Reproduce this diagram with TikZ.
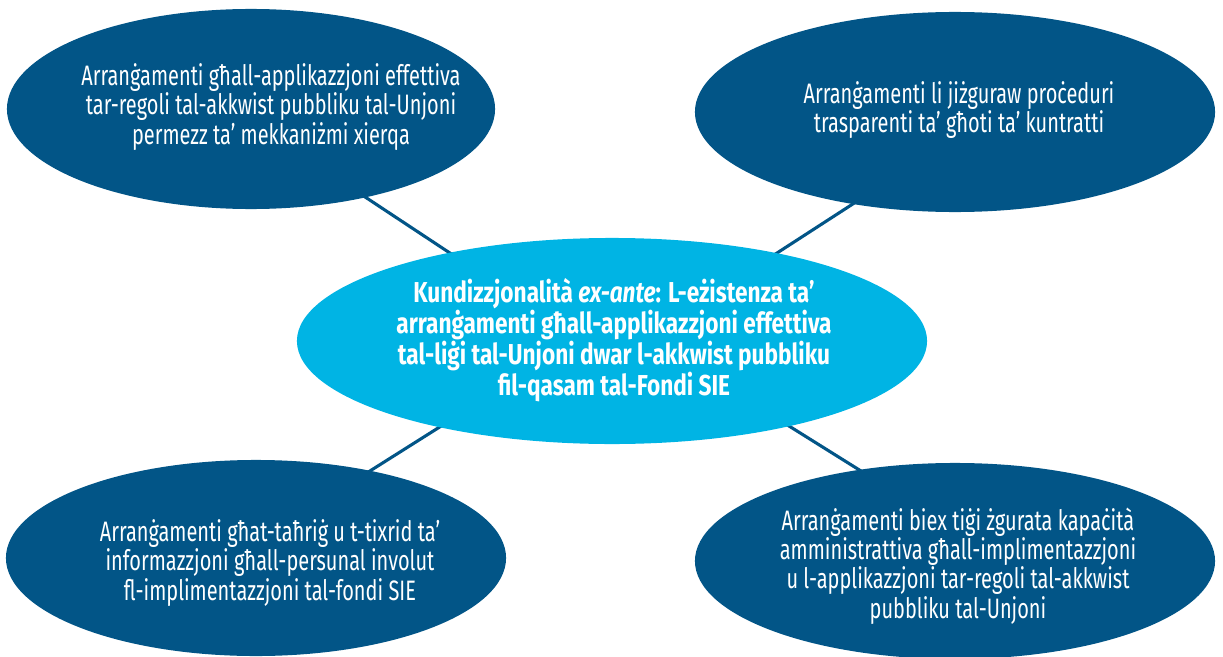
\documentclass[tikz,border=0pt]{standalone}
\usepackage{fontspec}
\setmainfont[FakeStretch=0.71]{Fira Sans}
\newfontfamily\hubfont[FakeStretch=0.785]{Fira Sans}
\usetikzlibrary{positioning, shapes.geometric, backgrounds, calc}
\definecolor{darkblue}{RGB}{2,85,135}
\definecolor{lightblue}{RGB}{0,180,228}

\begin{document}
\begin{tikzpicture}[x=0.025cm,y=-0.025cm,
blob/.style={ellipse, fill=darkblue, inner sep=0pt},
hub/.style={ellipse, fill=lightblue, inner sep=0pt},
txt/.style={text=white, align=center, inner sep=0pt, font=\fontsize{20}{20.8}\selectfont},
link/.style={draw=darkblue, line width=2.2pt}]
\useasboundingbox (0,0) rectangle (1223,657);
\node[hub, minimum width=15.75cm, minimum height=5.15cm] (c) at (612,341) {};
\node[blob, minimum width=12.2cm, minimum height=5cm] (tl) at (251,109) {};
\node[blob, minimum width=13cm, minimum height=5cm] (tr) at (955,112) {};
\node[blob, minimum width=12.5cm, minimum height=4.9cm] (bl) at (256,558) {};
\node[blob, minimum width=13cm, minimum height=4.9cm] (br) at (955,561) {};
\node[txt, font=\fontsize{20.5}{20.3}\selectfont\hubfont\bfseries] (c-txt) at (614,340) {Kundizzjonalità \textit{ex-ante}: L-eżistenza ta’\\arranġamenti għall-applikazzjoni effettiva\\tal-liġi tal-Unjoni dwar l-akkwist pubbliku\\fil-qasam tal-Fondi SIE};
\node[txt] (tl-txt) at (271,107) {Arranġamenti għall-applikazzjoni effettiva\\tar-regoli tal-akkwist pubbliku tal-Unjoni\\permezz ta’ mekkaniżmi xierqa};
\node[txt] (tr-txt) at (959,110) {Arranġamenti li jiżguraw proċeduri\\trasparenti ta’ għoti ta’ kuntratti};
\node[txt] (bl-txt) at (270,563) {Arranġamenti għat-taħriġ u t-tixrid ta’\\informazzjoni għall-persunal involut\\fl-implimentazzjoni tal-fondi SIE};
\node[txt] (br-txt) at (958,566) {Arranġamenti biex tiġi żgurata kapaċità\\amministrattiva għall-implimentazzjoni\\u l-applikazzjoni tar-regoli tal-akkwist\\pubbliku tal-Unjoni};
\begin{pgfonlayer}{background}
\draw[link] ($(tl)+(-19,0)$) -- ($(c)+(-29,0)$);
\draw[link] ($(tr)+(40,0)$) -- ($(c)+(29,0)$);
\draw[link] ($(bl)+(-24,0)$) -- ($(c)+(-36,0)$);
\draw[link] ($(br)+(50,0)$) -- ($(c)+(41,0)$);
\end{pgfonlayer}
\end{tikzpicture}
\end{document}
